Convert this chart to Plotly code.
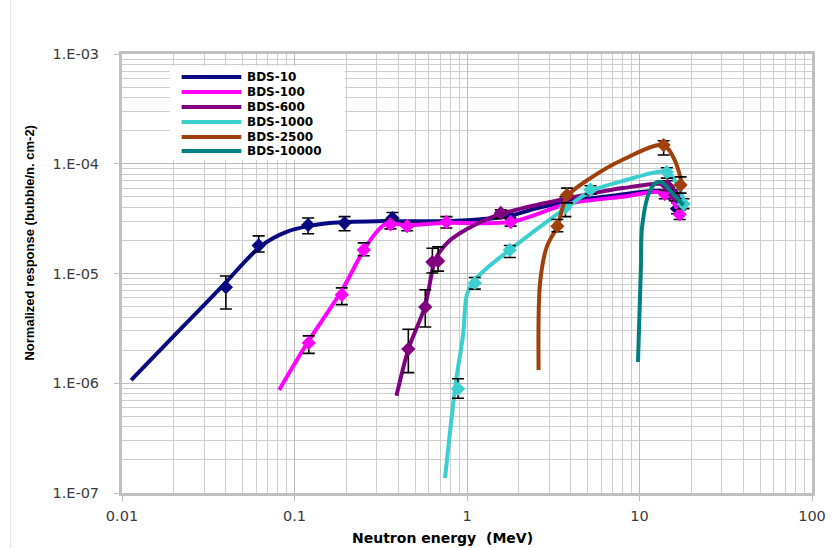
import plotly.graph_objects as go

# ---------------- data ----------------
# Calculated response curves (energy in MeV, response in bubble/(n cm-2))
bds10_curve_e = [0.0113, 0.02, 0.04, 0.05, 0.063, 0.075, 0.09, 0.12, 0.16, 0.2, 0.3, 0.4, 0.7, 1.0, 1.7, 2.5, 4.0, 7.0, 11.0, 14.0, 15.5, 17.0]
bds10_curve_r = [1.07e-6, 2.7e-6, 8.3e-6, 1.22e-5, 1.75e-5, 2.1e-5, 2.4e-5, 2.7e-5, 2.88e-5, 2.95e-5, 3.0e-5, 3.0e-5, 3.0e-5, 3.05e-5, 3.3e-5, 3.9e-5, 4.6e-5, 5.1e-5, 5.6e-5, 5.6e-5, 4.8e-5, 3.9e-5]

bds100_curve_e = [0.0815, 0.12, 0.19, 0.25, 0.3, 0.34, 0.45, 0.76, 1.8, 3.8, 8.0, 13.5, 15.5, 17.0]
bds100_curve_r = [8.7e-7, 2.4e-6, 7.2e-6, 1.6e-5, 2.4e-5, 2.85e-5, 2.75e-5, 2.9e-5, 2.95e-5, 4.3e-5, 5.0e-5, 5.5e-5, 4.6e-5, 3.5e-5]

bds600_curve_e = [0.39, 0.46, 0.57, 0.65, 0.7, 0.78, 0.9, 1.1, 1.5, 2.5, 4.0, 8.0, 14.0, 16.0, 17.5]
bds600_curve_r = [7.7e-7, 2.1e-6, 5.0e-6, 1.3e-5, 1.6e-5, 1.95e-5, 2.3e-5, 2.75e-5, 3.4e-5, 4.2e-5, 4.9e-5, 6.0e-5, 6.5e-5, 5.5e-5, 4.5e-5]

bds1000_curve_e = [0.746, 0.86, 0.95, 1.0, 1.1, 1.33, 1.77, 2.6, 3.7, 5.2, 8.1, 14.4, 16.5, 18.3]
bds1000_curve_r = [1.37e-7, 1.0e-6, 2.8e-6, 6.5e-6, 8.6e-6, 1.15e-5, 1.64e-5, 2.6e-5, 3.9e-5, 5.6e-5, 7.0e-5, 8.4e-5, 6.5e-5, 4.4e-5]

bds2500_curve_e = [2.6, 2.65, 2.9, 3.34, 3.8, 5.2, 8.1, 13.8, 16.0, 17.6]
bds2500_curve_r = [1.32e-6, 8.1e-6, 1.75e-5, 2.7e-5, 5.0e-5, 7.4e-5, 1.1e-4, 1.48e-4, 1.08e-4, 6.6e-5]

bds10000_curve_e = [9.8, 10.2, 10.35, 11.4, 12.6, 13.6, 15.5, 18.0]
bds10000_curve_r = [1.56e-6, 1.2e-5, 2.65e-5, 5.5e-5, 6.8e-5, 6.7e-5, 5.4e-5, 4.2e-5]

# Measured points with upper / lower error limits
bds10_meas_e = [0.04, 0.062, 0.12, 0.195, 0.37, 1.75, 14.8, 16.5]
bds10_meas_r = [7.5e-6, 1.8e-5, 2.77e-5, 2.88e-5, 3.2e-5, 3.3e-5, 5.5e-5, 3.9e-5]
bds10_meas_hi = [9.5e-6, 2.2e-5, 3.2e-5, 3.3e-5, 3.6e-5, 3.7e-5, 6.1e-5, 4.4e-5]
bds10_meas_lo = [4.75e-6, 1.57e-5, 2.3e-5, 2.45e-5, 2.75e-5, 2.9e-5, 4.9e-5, 3.5e-5]

bds100_meas_e = [0.121, 0.188, 0.252, 0.36, 0.45, 0.76, 1.79, 14.0, 17.1]
bds100_meas_r = [2.33e-6, 6.4e-6, 1.64e-5, 2.8e-5, 2.7e-5, 2.94e-5, 2.94e-5, 5.3e-5, 3.45e-5]
bds100_meas_hi = [2.7e-6, 7.4e-6, 1.9e-5, 3.1e-5, 2.95e-5, 3.3e-5, 3.2e-5, 5.8e-5, 3.8e-5]
bds100_meas_lo = [1.87e-6, 5.2e-6, 1.45e-5, 2.55e-5, 2.45e-5, 2.6e-5, 2.7e-5, 4.8e-5, 3.1e-5]

bds600_meas_e = [0.457, 0.573, 0.63, 0.68, 1.57, 14.5, 16.0]
bds600_meas_r = [2.05e-6, 4.95e-6, 1.27e-5, 1.3e-5, 3.56e-5, 6.3e-5, 5.2e-5]
bds600_meas_hi = [3.1e-6, 7.1e-6, 1.7e-5, 1.75e-5, 3.8e-5, 7.0e-5, 5.8e-5]
bds600_meas_lo = [1.25e-6, 3.25e-6, 1.01e-5, 1.05e-5, 3.2e-5, 5.7e-5, 4.6e-5]

bds1000_meas_e = [0.887, 1.11, 1.77, 3.72, 5.2, 14.4, 18.0]
bds1000_meas_r = [8.9e-7, 8.2e-6, 1.64e-5, 4.0e-5, 5.8e-5, 8.4e-5, 4.3e-5]
bds1000_meas_hi = [1.1e-6, 9.2e-6, 1.8e-5, 5.0e-5, 6.3e-5, 9.2e-5, 4.8e-5]
bds1000_meas_lo = [7.3e-7, 7.2e-6, 1.4e-5, 3.3e-5, 5.3e-5, 7.4e-5, 3.9e-5]

bds2500_meas_e = [3.34, 3.8, 13.8, 17.3]
bds2500_meas_r = [2.7e-5, 5.2e-5, 1.48e-4, 6.4e-5]
bds2500_meas_hi = [3.1e-5, 6.0e-5, 1.62e-4, 7.6e-5]
bds2500_meas_lo = [2.4e-5, 4.4e-5, 1.2e-4, 5.4e-5]

series_names = ["BDS-10", "BDS-100", "BDS-600", "BDS-1000", "BDS-2500", "BDS-10000"]
series_colors = ["#0a0a80", "#ff00ff", "#800080", "#3ccfcf", "#a0400c", "#008080"]

x_tick_vals = [0.01, 0.1, 1, 10, 100]
x_tick_text = ["0.01", "0.1", "1", "10", "100"]
y_tick_vals = [1e-7, 1e-6, 1e-5, 1e-4, 1e-3]
y_tick_text = ["1.E-07", "1.E-06", "1.E-05", "1.E-04", "1.E-03"]

curves = [
    (bds10_curve_e, bds10_curve_r),
    (bds100_curve_e, bds100_curve_r),
    (bds600_curve_e, bds600_curve_r),
    (bds1000_curve_e, bds1000_curve_r),
    (bds2500_curve_e, bds2500_curve_r),
    (bds10000_curve_e, bds10000_curve_r),
]
measured = [
    (bds10_meas_e, bds10_meas_r, bds10_meas_hi, bds10_meas_lo),
    (bds100_meas_e, bds100_meas_r, bds100_meas_hi, bds100_meas_lo),
    (bds600_meas_e, bds600_meas_r, bds600_meas_hi, bds600_meas_lo),
    (bds1000_meas_e, bds1000_meas_r, bds1000_meas_hi, bds1000_meas_lo),
    (bds2500_meas_e, bds2500_meas_r, bds2500_meas_hi, bds2500_meas_lo),
    None,
]

# ---------------- figure ----------------
fig = go.Figure()

for name, color, (ce, cr), meas in zip(series_names, series_colors, curves, measured):
    fig.add_trace(go.Scatter(
        x=ce, y=cr, mode="lines", name=name, showlegend=False,
        line=dict(color=color, width=4, shape="spline", smoothing=0.9),
        hoverinfo="skip",
    ))
    if meas is not None:
        me, mr, mhi, mlo = meas
        fig.add_trace(go.Scatter(
            x=me, y=mr, mode="markers", name=name, showlegend=False,
            marker=dict(symbol="diamond", size=11, color=color),
            error_y=dict(
                type="data", symmetric=False,
                array=[h - r for h, r in zip(mhi, mr)],
                arrayminus=[r - l for r, l in zip(mr, mlo)],
                color="black", thickness=1.6, width=6,
            ),
        ))

# minor grid positions (2..9 in each decade)
x_minor = [m * 10 ** d for d in range(-2, 2) for m in range(2, 10)]
y_minor = [m * 10 ** d for d in range(-7, -3) for m in range(2, 10)]

tick_font = dict(family="DejaVu Sans", size=14.5, color="#3a3a3a")

fig.update_xaxes(
    type="log", range=[-2, 2],
    tickvals=x_tick_vals, ticktext=x_tick_text, tickfont=tick_font,
    ticks="outside", ticklen=5, tickcolor="#bdbdbd", ticklabelstandoff=3,
    showgrid=True, gridcolor="#bdbdbd", gridwidth=1.4,
    minor=dict(tickvals=x_minor, showgrid=True, gridcolor="#cecece", gridwidth=1, ticks=""),
    showline=True, linecolor="#c0c0c0", linewidth=3, mirror=True,
    zeroline=False,
)
fig.update_yaxes(
    type="log", range=[-7, -3],
    tickvals=y_tick_vals, ticktext=y_tick_text, tickfont=tick_font,
    ticks="outside", ticklen=5, tickcolor="#bdbdbd", ticklabelstandoff=12,
    showgrid=True, gridcolor="#bdbdbd", gridwidth=1.4,
    minor=dict(tickvals=y_minor, showgrid=True, gridcolor="#cecece", gridwidth=1, ticks=""),
    showline=True, linecolor="#c0c0c0", linewidth=3, mirror=True,
    zeroline=False,
)

# legend panel drawn as shapes + text
PL, PR, PT, PB = 122, 816, 54, 493
def px_x(px):
    return (px - PL) / (PR - PL)
def px_y(py):
    return (PB - py) / (PB - PT)

shapes = [
    dict(type="rect", xref="paper", yref="paper",
         x0=px_x(170), x1=px_x(346), y0=px_y(160), y1=px_y(66),
         fillcolor="white", line=dict(width=0), layer="above"),
    # outer chart border on the left
    dict(type="line", xref="paper", yref="paper",
         x0=px_x(10), x1=px_x(10), y0=px_y(0), y1=px_y(548),
         line=dict(color="#e2e2e2", width=1)),
]
annotations = []
legend_rows = [77, 92, 107, 122, 137, 151]
for name, color, ry in zip(series_names, series_colors, legend_rows):
    shapes.append(dict(type="line", xref="paper", yref="paper",
                       x0=px_x(182), x1=px_x(242), y0=px_y(ry), y1=px_y(ry),
                       line=dict(color=color, width=4), layer="above"))
    annotations.append(dict(text=name, xref="paper", yref="paper",
                            x=px_x(246), y=px_y(ry), xanchor="left", yanchor="middle",
                            showarrow=False,
                            font=dict(family="DejaVu Sans", size=12, color="black", weight="bold")))

annotations.append(dict(text="Neutron energy\u00a0 (MeV)", xref="paper", yref="paper",
                        x=px_x(444), y=px_y(538), xanchor="center", yanchor="middle",
                        showarrow=False,
                        font=dict(family="DejaVu Sans", size=14, color="black", weight="bold")))
annotations.append(dict(text="Normalized response (bubble/n. cm-2)", xref="paper", yref="paper",
                        x=px_x(28), y=px_y(243), xanchor="center", yanchor="middle",
                        textangle=-90, showarrow=False,
                        font=dict(family="Liberation Sans", size=13, color="black", weight="bold")))

fig.update_layout(
    width=838, height=548,
    margin=dict(l=PL, r=838 - PR, t=PT, b=548 - PB),
    paper_bgcolor="white", plot_bgcolor="white",
    showlegend=False,
    shapes=shapes, annotations=annotations,
)

fig.write_html("out.html")
